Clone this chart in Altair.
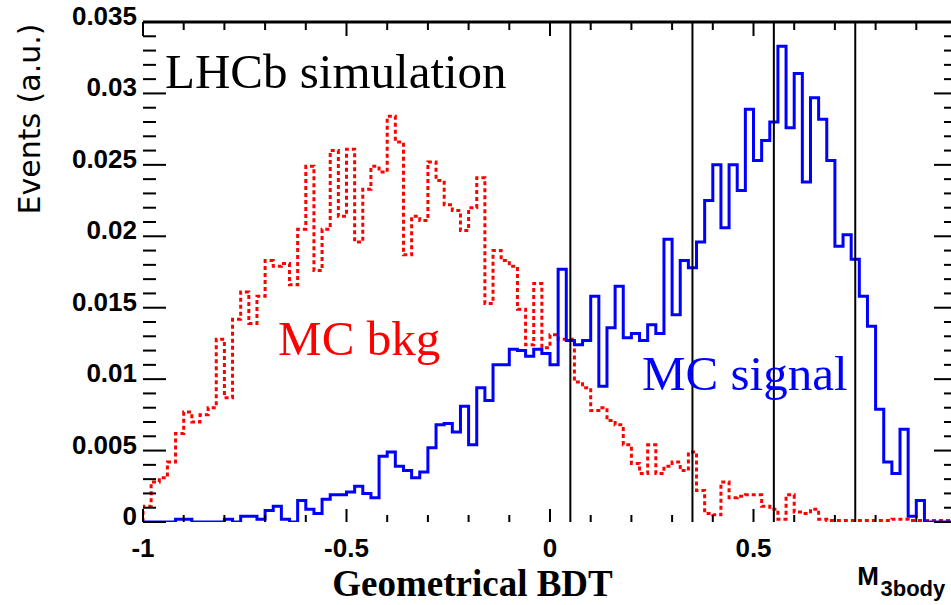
import altair as alt
import pandas as pd

# ---------------- data ----------------
bin_start = -1.0
bin_width = 0.02

mc_bkg = [
    0.0011, 0.0028, 0.0031, 0.0042, 0.0062, 0.0077, 0.0070, 0.0075, 0.0080, 0.0128,
    0.0087, 0.0142, 0.0161, 0.0139, 0.0158, 0.0183, 0.0179, 0.0181, 0.0166, 0.0205,
    0.0249, 0.0176, 0.0205, 0.0260, 0.0214, 0.0261, 0.0196, 0.0233, 0.0249, 0.0245,
    0.0284, 0.0266, 0.0187, 0.0214, 0.0211, 0.0252, 0.0239, 0.0222, 0.0218, 0.0204,
    0.0220, 0.0241, 0.0153, 0.0190, 0.0183, 0.0179, 0.0149, 0.0124, 0.0167, 0.0122,
    0.0131, 0.0128, 0.0128, 0.0098, 0.0094, 0.0078, 0.0080, 0.0071, 0.0068, 0.0054,
    0.0041, 0.0034, 0.0054, 0.0034, 0.0039, 0.0042, 0.0036, 0.0049, 0.0022, 0.0006,
    0.0005, 0.0028, 0.0017, 0.0018, 0.0019, 0.0019, 0.0011, 0.0009, 0.0002, 0.0019,
    0.0007, 0.0006, 0.0009, 0.0002, 0.0001, 0.0001, 0.0001, 0.0001, 0.0001, 0.0001,
    0.0001, 0.0001, 0.0002, 0.0002, 0.0001, 0.0001, 0.0001, 0.0001, 0.0001, 0.0001,
]

mc_signal = [
    0.0, 0.0, 0.0, 0.0, 0.0002, 0.0002, 0.0, 0.0, 0.0, 0.0,
    0.0002, 0.0, 0.0004, 0.0004, 0.0002, 0.0008, 0.0011, 0.0002, 0.0, 0.0015,
    0.0009, 0.0006, 0.0016, 0.0019, 0.0019, 0.0021, 0.0025, 0.0020, 0.0017, 0.0046,
    0.0049, 0.0039, 0.0036, 0.0031, 0.0035, 0.0052, 0.0068, 0.0069, 0.0063, 0.0081,
    0.0054, 0.0094, 0.0085, 0.0110, 0.0110, 0.0121, 0.0120, 0.0116, 0.0121, 0.0118,
    0.0110, 0.0177, 0.0127, 0.0124, 0.0127, 0.0158, 0.0095, 0.0136, 0.0165, 0.0129,
    0.0132, 0.0127, 0.0138, 0.0132, 0.0198, 0.0145, 0.0183, 0.0178, 0.0196, 0.0225,
    0.0250, 0.0206, 0.0250, 0.0232, 0.0289, 0.0253, 0.0267, 0.0280, 0.0333, 0.0276,
    0.0314, 0.0238, 0.0297, 0.0282, 0.0253, 0.0193, 0.0201, 0.0184, 0.0158, 0.0137,
    0.0079, 0.0042, 0.0034, 0.0065, 0.0004, 0.0015, 0.0, 0.0, 0.0, 0.0,
]

cut_values = [0.05, 0.35, 0.55, 0.75]
x_tick_values = [-1, -0.5, 0, 0.5, 1]
x_tick_labels = ["-1", "-0.5", "0", "0.5", "1"]
y_tick_values = [0, 0.005, 0.01, 0.015, 0.02, 0.025, 0.03, 0.035]
y_tick_labels = ["0", "0.005", "0.01", "0.015", "0.02", "0.025", "0.03", "0.035"]

# ---------------- layout ----------------
W, H = 808, 500
X_MAX = -1 + W / 407.0          # right part of the frame is cut off in the original
xs = alt.Scale(domain=[-1, X_MAX], nice=False, zero=False)
ys = alt.Scale(domain=[0, 0.035], nice=False, zero=False)

n_bins = len(mc_bkg)
edges = [round(bin_start + bin_width * i, 4) for i in range(n_bins + 1)]


def step_rows(name, vals):
    rows = [{"series": name, "x": bin_start, "y": 0.0, "o": 0}]
    for i, v in enumerate(vals):
        rows.append({"series": name, "x": edges[i], "y": v, "o": i + 1})
    rows.append({"series": name, "x": edges[-1], "y": vals[-1], "o": n_bins + 1})
    return rows


df_bkg = pd.DataFrame(step_rows("MC bkg", mc_bkg))
df_sig = pd.DataFrame(step_rows("MC signal", mc_signal))

frame_axis = dict(grid=False, ticks=False, labels=False, title=None,
                  domain=True, domainColor="black", domainWidth=3)

bkg_line = alt.Chart(df_bkg).mark_line(
    interpolate="step-after", color="#ff0000", strokeWidth=3,
    strokeDash=[4, 3], clip=True,
).encode(
    x=alt.X("x:Q", scale=xs, axis=alt.Axis(**frame_axis)),
    y=alt.Y("y:Q", scale=ys, axis=alt.Axis(**frame_axis)),
    order="o:Q",
)

sig_line = alt.Chart(df_sig).mark_line(
    interpolate="step-after", color="#0000ff", strokeWidth=3, clip=True,
).encode(
    x=alt.X("x:Q", scale=xs, axis=None),
    y=alt.Y("y:Q", scale=ys, axis=None),
    order="o:Q",
)

df_cuts = pd.DataFrame({"c": cut_values})
cuts = alt.Chart(df_cuts).mark_rule(color="black", strokeWidth=2).encode(
    x=alt.X("c:Q", scale=xs, axis=None)
)

# frame top line
top_line = alt.Chart(pd.DataFrame({"t": [y_tick_values[-1]]})).mark_rule(
    color="black", strokeWidth=3
).encode(y=alt.Y("t:Q", scale=ys, axis=None))

# inward ticks
x_minor = [round(-1 + 0.1 * i, 2) for i in range(20)]
x_minor = [v for v in x_minor if v <= X_MAX]
df_xmin = pd.DataFrame({"t": [v for v in x_minor if v not in x_tick_values]})
df_xmaj = pd.DataFrame({"t": [v for v in x_tick_values if v <= X_MAX]})
y_minor = [round(0.001 * i, 3) for i in range(36)]
df_ymin = pd.DataFrame({"t": [v for v in y_minor if v not in y_tick_values]})
df_ymaj = pd.DataFrame({"t": y_tick_values})


def xticks(df, y0, y1):
    return alt.Chart(df).mark_rule(color="black", strokeWidth=2).encode(
        x=alt.X("t:Q", scale=xs, axis=None), y=alt.value(y0), y2=alt.value(y1)
    )


def yticks(df, x0, x1):
    return alt.Chart(df).mark_rule(color="black", strokeWidth=2).encode(
        y=alt.Y("t:Q", scale=ys, axis=None), x=alt.value(x0), x2=alt.value(x1)
    )


RIGHT = W + 6  # the right frame line lies just outside the window
tick_layers = [
    xticks(df_xmin, H, H - 7), xticks(df_xmaj, H, H - 13),
    xticks(df_xmin, 0, 8), xticks(df_xmaj, 0, 14),
    yticks(df_ymin, 0, 13), yticks(df_ymaj, 0, 23),
    yticks(df_ymin, RIGHT - 13, W), yticks(df_ymaj, RIGHT - 23, W),
]

# tick labels (text marks placed through the scales)
df_xlab = pd.DataFrame({"t": x_tick_values, "lab": x_tick_labels})
df_xlab = df_xlab[df_xlab["t"] <= X_MAX]
df_ylab = pd.DataFrame({"t": y_tick_values, "lab": y_tick_labels})

x_labels = alt.Chart(df_xlab).mark_text(
    font="Liberation Sans", fontWeight="bold", fontSize=26, color="black",
    align="center", baseline="alphabetic", dy=35,
).encode(x=alt.X("t:Q", scale=xs, axis=None), y=alt.value(H), text="lab:N")

y_labels = alt.Chart(df_ylab).mark_text(
    font="Liberation Sans", fontWeight="bold", fontSize=26, color="black",
    align="right", baseline="alphabetic", dx=-6, dy=3,
).encode(y=alt.Y("t:Q", scale=ys, axis=None), x=alt.value(0), text="lab:N")


def label(text, x, y, color="black", size=49, font="Liberation Serif",
          weight="normal", align="left", angle=0):
    return alt.Chart(pd.DataFrame({"a": [0]})).mark_text(
        text=text, font=font, fontSize=size, fontWeight=weight, color=color,
        align=align, baseline="alphabetic", angle=angle,
    ).encode(x=x, y=y)


texts = [
    label("LHCb simulation", alt.datum(-0.946), alt.datum(0.0304)),
    label("MC bkg", alt.datum(-0.668), alt.datum(0.01166), color="#ff0000"),
    label("MC signal", alt.datum(0.226), alt.datum(0.00926), color="#0000ff"),
    label("Geometrical BDT", alt.datum(-0.535), alt.value(574), size=37,
          weight="bold"),
    label("Events (a.u.)", alt.value(-103), alt.value(97), size=30,
          font="DejaVu Sans", align="center", angle=270),
    label("M", alt.datum(0.755), alt.value(563), size=26,
          font="Liberation Sans", weight="bold"),
    label("3body", alt.datum(0.812), alt.value(574), size=22,
          font="Liberation Sans", weight="bold"),
]

chart = alt.layer(
    bkg_line, sig_line, cuts, top_line, *tick_layers, x_labels, y_labels,
    *texts
).properties(
    width=W, height=H,
    padding={"left": 143, "top": 22, "right": 0, "bottom": 83},
    autosize=alt.AutoSizeParams(type="none"),
    background="white",
).configure_view(stroke=None)

chart.save("out.html", embed_options={"renderer": "svg", "actions": False})
